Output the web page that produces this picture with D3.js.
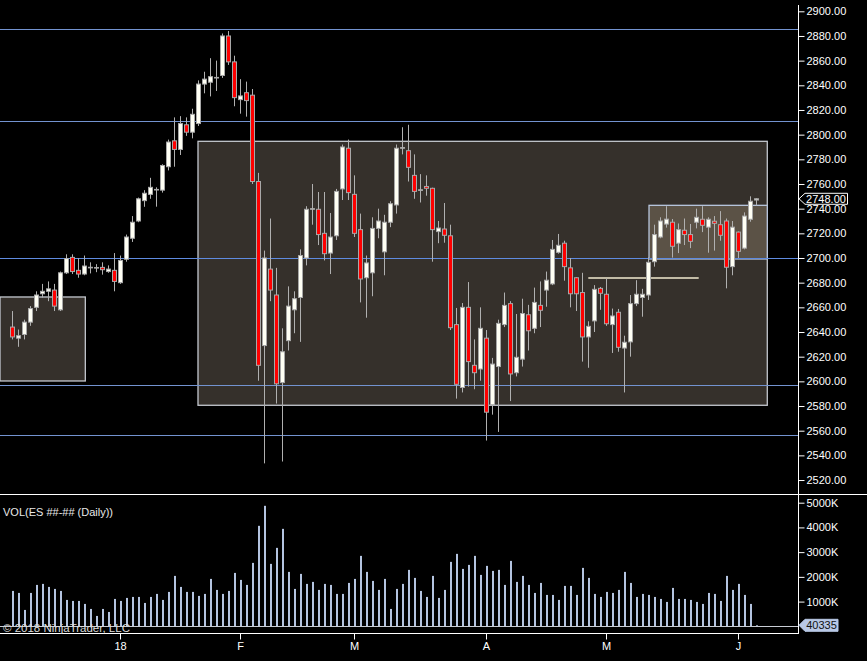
<!DOCTYPE html>
<html><head><meta charset="utf-8">
<script src="https://cdn.jsdelivr.net/npm/d3@7"></script>
<style>html,body{margin:0;padding:0;background:#000;overflow:hidden}svg{display:block}</style>
</head><body><svg id="c" width="867" height="661"></svg>
<script>
// ---- data (daily ES bars, index 0 = first visible bar) ----
const opens=[2644,2635,2638,2648,2660,2671,2673,2674,2658,2688,
2700.5,2690,2687,2692,2692,2692.4,2689,2690,2680,2699,
2716,2730,2746.5,2751.6,2755.2,2755,2774,2795,2788,2808,
2802,2809,2841,2842.5,2846,2848,2880,2859,2828.4,2834,
2832,2762,2629,2691,2670,2599,2633,2658,2668,2700,
2739.5,2739.5,2720,2704,2718,2756,2789,2751.6,2723,2684,
2688,2724,2705,2729,2743,2789,2787,2767,2755,2758,
2756.5,2721.4,2723.5,2718,2646,2595,2660,2613,2610,2635,
2581,2612,2646,2663,2607,2618,2654,2643,2661.6,2674,
2679,2704.6,2712,2692,2684,2672,2636,2649,2675.4,2670.6,
2646,2656,2627,2632,2663,2668,2670,2697,2717,2727.5,
2729,2712,2722.5,2719,2729,2731.4,2725,2729.8,2727,2730,
2693,2721,2708,2731.4,2747];
const highs=[2657,2642,2650,2661,2673,2679,2681,2679,2689,2703,
2703,2700,2702,2696.5,2695,2696.5,2694,2704,2702,2719,
2734,2749,2755,2765,2757.3,2776,2796,2814,2815,2814,
2821,2844,2851,2862,2860,2882,2884,2864,2845,2843,
2837,2769,2706,2732,2692,2643,2677,2673,2707,2742,
2760,2753.5,2753.5,2736.5,2756,2792,2796,2767,2736,2702,
2733,2740,2735,2746,2792,2806,2808,2784,2768,2767,
2757,2730,2744.6,2727,2659.5,2663.5,2680.5,2634,2660,2641.6,
2619,2650,2672,2665,2654.6,2667,2662,2676,2681,2689,
2714.6,2719.5,2714,2700,2684.5,2688,2648.7,2678,2676.5,2683.5,
2659,2658.7,2637,2670,2682,2675,2700.6,2727,2733,2742,
2731.6,2728,2732,2727.6,2740,2742,2733,2734,2738,2732,
2730,2721.5,2737,2750,2748.4];
const lows=[2634,2628,2634,2645,2657,2668,2665,2657,2657,2687,
2687,2684,2686,2687.5,2688.5,2686.5,2688,2673,2679,2697,
2713,2729,2741.5,2748,2741.6,2753,2771,2774,2783.5,2799,
2797,2807,2833.5,2831,2835.4,2846,2856.5,2823,2817,2814.6,
2760,2600.5,2533.5,2665,2582,2535,2625,2639,2632,2694,
2727,2710.5,2698,2687,2714.6,2747,2747,2717,2664,2651.6,
2669,2716,2686,2725,2736,2784,2762,2748,2745,2750.5,
2697,2712,2712.4,2641.6,2586,2591,2595.7,2593.6,2600.5,2552,
2573,2559,2644,2584,2604,2612,2625,2639,2644,2660.5,
2678,2703.5,2681.6,2660,2657,2616,2611,2640,2658,2645,
2623,2624,2591,2620,2661,2652.4,2666,2693,2716,2724.6,
2700.3,2704,2710.5,2708,2724,2721,2704.3,2706,2714,2675.4,
2686,2700,2707,2729.4,2742.7];
const closes=[2636,2637,2648,2659,2670,2673,2675,2661,2688,2699.5,
2689,2687,2693.5,2692.5,2692.3,2690.5,2691,2681,2698,2717,
2729,2748,2752.5,2757.3,2755.6,2775,2794,2788,2809,2802,
2816.5,2841,2845,2847,2846.4,2880,2859,2830,2831.4,2827.6,
2762,2613,2700,2674,2598,2624,2661,2667,2702,2739.5,
2740,2719,2703.5,2717,2754,2790,2753,2720,2683,2696,
2724,2730,2729,2744,2789,2789.5,2773.5,2754,2755.3,2756.5,
2723,2724.3,2718.4,2643.5,2597.6,2660,2616,2607,2643,2575,
2614,2647,2661.6,2606,2619.5,2655,2641,2664,2657.6,2682,
2707,2710.3,2693,2671,2671,2636,2644.6,2674.6,2671.4,2646.7,
2653,2627.6,2631.7,2663,2670.6,2670.6,2696.5,2719,2730,2731.5,
2709.5,2723,2719,2713.5,2733,2726.5,2731.4,2728.1,2718.4,2692.5,
2725,2705.4,2734,2746,2748];
// volume in thousands of contracts
const volumes=[1431,1350,662,1350,1674,1715,1593,1512,1431,1067,
1026,1026,905,702,419,702,580,1107,1026,1148,
1188,1188,945,1188,1310,1067,1391,2039,1593,1391,
1391,1229,1310,1917,1472,1310,1431,2160,1877,1674,
2565,4064,4874,2525,3173,3942,2201,1512,2120,1715,
1796,1472,1715,1674,1310,1310,1755,1917,2849,2201,
1836,1472,1917,702,1512,1715,2282,1958,1431,1188,
2039,1148,1472,2606,2930,2322,2484,2849,2079,2444,
2241,2282,1674,2646,1796,2039,1674,1350,1755,1269,
1269,1067,1634,1634,1269,2363,1958,1310,1188,1391,
1350,1472,2201,1755,1188,1310,1269,1188,1107,986,
1553,1107,1107,1067,986,905,1350,1310,1026,2039,
1472,1715,1269,905,40.335];
// date axis
const dateLabels=["18","F","M","A","M","J"];
const dateIndex=[18,38,57,79,99,121];
// price / volume axis ticks
const priceTicks=d3.range(2520,2901,20);
const volTicks=[1000,2000,3000,4000,5000];
// horizontal levels drawn across the chart
const levels=[2885.4,2810.8,2700,2597,2556.2];
// rectangles (bar index start/end, price top/bottom)
const boxStart=[-2,31,106.17];
const boxEnd=[12.22,125.88,125.88];
const boxTop=[2668.4,2794.6,2742.7];
const boxBottom=[2600.3,2580.6,2699.2];
const boxKind=["dark","dark","light"];
// short level segment
const segStart=96.05, segEnd=114.45, segPrice=2683.8;

// ---- drawing ----
const W=867,H=661;
const svg=d3.select("#c");
svg.append("rect").attr("width",W).attr("height",H).attr("fill","#000");
const FONT="'Liberation Sans', Arial, sans-serif";

const n=closes.length;
const x=d3.scaleLinear().domain([0,n-1]).range([12,12+6*(n-1)]);
const y=d3.scaleLinear().domain([2500,2900]).range([504.7,11.3]);
const yv=d3.scaleLinear().domain([0,5000]).range([626.3,502.7]);
const AX=798.5;

svg.append("clipPath").attr("id","pc").append("rect").attr("x",0).attr("y",0).attr("width",AX).attr("height",494);
const pg=svg.append("g").attr("clip-path","url(#pc)");

// boxes
boxStart.forEach((s,i)=>{
  const x0=x(s), x1=x(boxEnd[i]), y0=y(boxTop[i]), y1=y(boxBottom[i]);
  pg.append("rect").attr("x",x0).attr("y",y0).attr("width",x1-x0).attr("height",y1-y0)
    .attr("fill",boxKind[i]==="light"?"#5b5246":"#35302b")
    .attr("stroke",boxKind[i]==="light"?"#b8c6de":"#c4c8cf").attr("stroke-width",1.3);
});

// levels
levels.forEach(l=>{
  pg.append("line").attr("x1",0).attr("x2",AX).attr("y1",Math.round(y(l))+0.5).attr("y2",Math.round(y(l))+0.5)
    .attr("stroke",l===2700?"#5f8be0":"#7393d0").attr("stroke-width",1);
});
// segment
pg.append("line").attr("x1",x(segStart)).attr("x2",x(segEnd)).attr("y1",y(segPrice)).attr("y2",y(segPrice))
  .attr("stroke","#f2ead0").attr("stroke-width",1.6);

// candles
const idx=d3.range(n);
const cg=pg.append("g");
cg.selectAll("line.w").data(idx).join("line").attr("class","w")
  .attr("x1",i=>x(i)+0.5).attr("x2",i=>x(i)+0.5)
  .attr("y1",i=>y(highs[i])).attr("y2",i=>y(lows[i]))
  .attr("stroke","#b0b0b0").attr("stroke-width",1);
cg.selectAll("rect.b").data(idx).join("rect").attr("class","b")
  .attr("x",i=>x(i)-1.5).attr("width",4)
  .attr("y",i=>y(Math.max(opens[i],closes[i])))
  .attr("height",i=>Math.max(0.6,Math.abs(y(opens[i])-y(closes[i]))))
  .attr("fill",i=>closes[i]<opens[i]?"#ff0000":"#fffff4")
  .attr("stroke","#a8a8a8").attr("stroke-width",1);

// price axis
const pa=svg.append("g").attr("transform",`translate(${AX},0)`)
  .call(d3.axisRight(y).tickValues(priceTicks).tickFormat(d3.format(".2f")).tickSize(6).tickPadding(2));
pa.select(".domain").remove();
pa.selectAll("line").attr("stroke","#fff");
pa.selectAll("text").attr("fill","#fff").style("font-family",FONT).style("font-size","11px");
svg.append("line").attr("x1",AX).attr("x2",AX).attr("y1",5).attr("y2",494).attr("stroke","#fff");

// last price marker
const lp=closes[n-1], ly=y(lp);
svg.append("path").attr("d",`M${AX+0.5},${ly} L805,${ly-5.5} L847.5,${ly-5.5} L847.5,${ly+5.5} L805,${ly+5.5} Z`)
  .attr("fill","#000").attr("stroke","#fff").attr("stroke-width",1);
svg.append("text").attr("x",826).attr("y",ly).attr("dy","0.35em").attr("text-anchor","middle")
  .attr("fill","#fff").style("font-family",FONT).style("font-size","11px").text(d3.format(".2f")(lp));

// separator
svg.append("line").attr("x1",0).attr("x2",W).attr("y1",494.5).attr("y2",494.5).attr("stroke","#fff");

// volume bars
svg.selectAll("rect.v").data(idx).join("rect").attr("class","v")
  .attr("x",i=>x(i)).attr("width",2)
  .attr("y",i=>yv(volumes[i])).attr("height",i=>yv(0)-yv(volumes[i]))
  .attr("fill","#b4c4e0");
svg.append("line").attr("x1",0).attr("x2",AX).attr("y1",626.5).attr("y2",626.5).attr("stroke","#c8ccd4");

// volume axis
const va=svg.append("g").attr("transform",`translate(${AX},0)`)
  .call(d3.axisRight(yv).tickValues(volTicks).tickFormat(d=>d+"K").tickSize(6).tickPadding(2));
va.select(".domain").remove();
va.selectAll("line").attr("stroke","#fff");
va.selectAll("text").attr("fill","#fff").style("font-family",FONT).style("font-size","11px");
svg.append("line").attr("x1",AX).attr("x2",AX).attr("y1",495).attr("y2",634).attr("stroke","#fff");

// last volume marker
const lv=volumes[n-1], lvy=yv(lv);
svg.append("path").attr("d",`M${AX+0.5},${lvy} L805,${lvy-6} L838,${lvy-6} L838,${lvy+6} L805,${lvy+6} Z`)
  .attr("fill","#b8c8e6").attr("stroke","#b8c8e6");
svg.append("text").attr("x",821.5).attr("y",lvy).attr("dy","0.35em").attr("text-anchor","middle")
  .attr("fill","#111").style("font-family",FONT).style("font-size","11px").text(d3.format("d")(Math.round(lv*1000)));

// date axis
const da=svg.append("g").attr("transform","translate(0,633.5)")
  .call(d3.axisBottom(x).tickValues(dateIndex).tickFormat((d,i)=>dateLabels[i]).tickSize(6).tickPadding(3));
da.select(".domain").remove();
da.selectAll(".tick").attr("transform",d=>`translate(${x(d)+0.5},0)`);
da.selectAll("line").attr("stroke","#fff");
da.selectAll("text").attr("fill","#fff").style("font-family",FONT).style("font-size","11px");
svg.append("line").attr("x1",0).attr("x2",AX).attr("y1",633.5).attr("y2",633.5).attr("stroke","#fff");

// texts
svg.append("text").attr("x",3).attr("y",516).attr("fill","#e8e8e8").style("font-family",FONT).style("font-size","11px")
  .text("VOL(ES ##-## (Daily))");
svg.append("text").attr("x",3).attr("y",632).attr("fill","#dcdcdc").style("font-family",FONT).style("font-size","11.5px")
  .text("© 2018 NinjaTrader, LLC");
</script></body></html>
